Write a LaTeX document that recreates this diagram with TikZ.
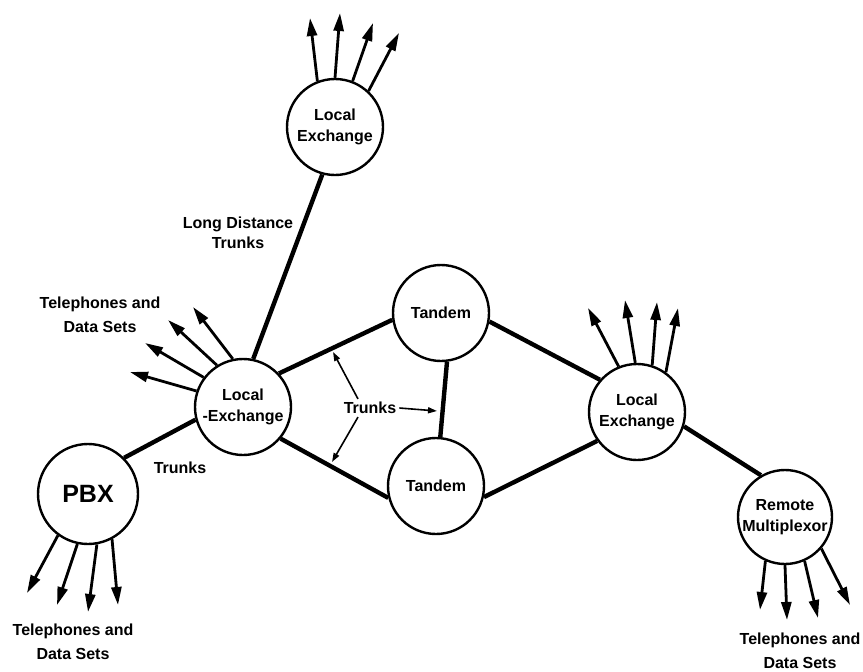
\documentclass[tikz,border=0pt]{standalone}
\usepackage{fontspec}
\setmainfont{Liberation Sans}
\usetikzlibrary{arrows.meta}

\begin{document}
\begin{tikzpicture}[
  x=1pt,y=-1pt,
  office/.style={draw,circle,line width=2.4pt,minimum size=96pt,inner sep=0pt,align=center,font=\bfseries\fontsize{16}{21}\selectfont},
  trunk/.style={line width=4.4pt},
  fanout/.style={line width=2.8pt,-{Triangle[length=18pt,width=10pt]}},
  pointer/.style={line width=1.6pt,-{Triangle[length=9pt,width=6pt]}},
  lbl/.style={align=center,font=\bfseries\fontsize{16}{24}\selectfont}
]
\useasboundingbox (0,0) rectangle (863,672);

\node[office] (topex) at (335,127) {Local\\Exchange};
\node[office] (leftex) at (243,407) {Local\\-Exchange};
\node[office] (tandtop) at (441,313) {Tandem};
\node[office] (tandbot) at (436,486) {Tandem};
\node[office] (rightex) at (637,412) {Local\\Exchange};
\node[office,minimum size=100pt,font=\bfseries\fontsize{25}{28}\selectfont] (pbx) at (88,494) {PBX};
\node[office,minimum size=94pt] (remote) at (785,517) {Remote\\Multiplexor};

\node[lbl,font=\bfseries\fontsize{16}{20}\selectfont] (ldt) at (238,233) {Long Distance\\Trunks};
\node[lbl] (sets1) at (100,315) {Telephones and\\Data Sets};
\node[lbl] (trk1) at (180,468) {Trunks};
\node[lbl,inner sep=3pt] (trk2) at (370,408) {Trunks};
\node[lbl] (sets2) at (73,642) {Telephones and\\Data Sets};
\node[lbl] (sets3) at (800,651) {Telephones and\\Data Sets};

\draw[trunk] (topex.255) -- (leftex.78);
\draw[trunk] (leftex.43) -- (tandtop.188);
\draw[trunk] (leftex.320) -- (tandbot.194);
\draw[trunk] (tandtop.277) -- (tandbot.85);
\draw[trunk] (tandtop.350) -- (rightex.139);
\draw[trunk] (tandbot.347) -- (rightex.216);
\draw[trunk] (rightex.343) -- (remote.120);
\draw[trunk] (pbx.45) -- (leftex.195);

\foreach \n/\a/\tx/\ty in {topex/111/310/18, topex/90/340/13, topex/69/373/23, topex/47/399/33,
    leftex/161/130/372, leftex/143/145/343, leftex/122/168/320, leftex/102/193/307,
    rightex/112/588/308, rightex/92/625/300, rightex/72/657/302, rightex/54/678/308,
    pbx/234/27/593, pbx/258/57/605, pbx/280/88/612, pbx/298/118/605,
    remote/246/760/610, remote/270/787/620, remote/294/818/618, remote/319/850/605}{
  \coordinate (\n-\a) at (\tx,\ty);
  \draw[fanout] (\n.\a) -- (\n-\a);
}

\coordinate (uptrunk) at (333,352);
\coordinate (midtrunk) at (437,411);
\coordinate (lowtrunk) at (332,462);
\draw[pointer] ([xshift=-12pt]trk2.north) -- (uptrunk);
\draw[pointer] (trk2.east) -- (midtrunk);
\draw[pointer] ([xshift=-12pt]trk2.south) -- (lowtrunk);
\end{tikzpicture}
\end{document}
